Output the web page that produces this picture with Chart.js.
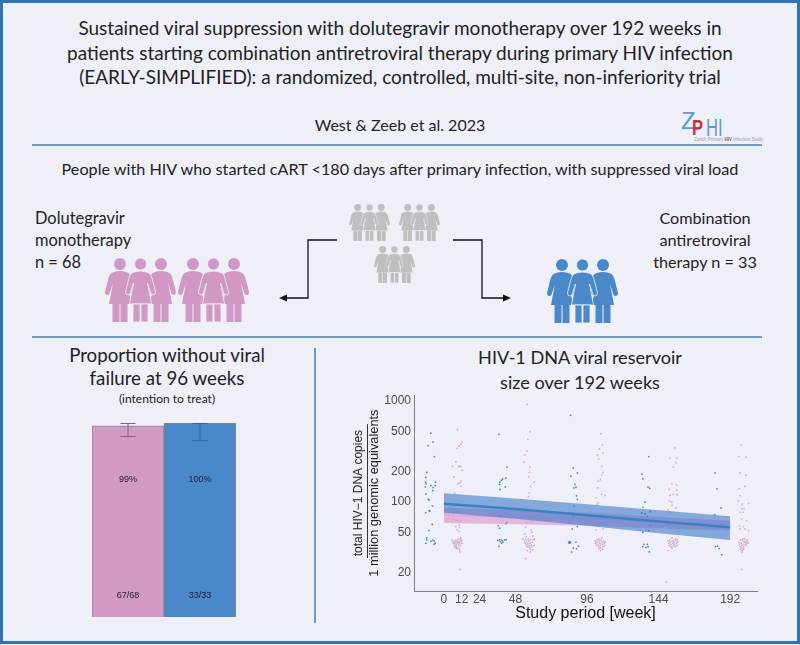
<!DOCTYPE html>
<html>
<head>
<meta charset="utf-8">
<script src="https://cdn.jsdelivr.net/npm/chart.js@4"></script>
<style>
  html, body { margin: 0; padding: 0; background: #EFEFF8; }
  #page { position: relative; width: 800px; height: 645px; overflow: hidden; background: #EFEFF8;
          font-family: Lato, "Open Sans", sans-serif; color: #222; }
  #frame { position: absolute; left: 0; top: 0; width: 800px; height: 644px; box-sizing: border-box; border: 3.5px solid #2E75B6; }
  .t { position: absolute; white-space: nowrap; }
  .c { text-align: center; }
  svg, canvas { position: absolute; }
</style>
</head>
<body>
<div id="page">
  <div id="frame"></div>

  <div class="t c" style="left:0;width:800px;top:16px;font-size:19px;line-height:24.6px">Sustained viral suppression with dolutegravir monotherapy over 192 weeks in<br>patients starting combination antiretroviral therapy during primary HIV infection<br>(EARLY-SIMPLIFIED): a randomized, controlled, multi-site, non-inferiority trial</div>
  <div class="t c" style="left:0;width:800px;top:115px;font-size:16px;line-height:20px">West &amp; Zeeb et al. 2023</div>
  <div class="t c" style="left:0;width:800px;top:158px;font-size:16.2px;line-height:22px">People with HIV who started cART &lt;180 days after primary infection, with suppressed viral load</div>

  <div class="t" style="left:35px;top:207px;font-size:16.4px;line-height:22px">Dolutegravir<br>monotherapy<br>n = 68</div>
  <div class="t c" style="left:625px;width:160px;top:207px;font-size:16.2px;line-height:22px">Combination<br>antiretroviral<br>therapy n = 33</div>

  <div class="t c" style="left:17px;width:300px;top:344px;font-size:18.7px;line-height:23px">Proportion without viral<br>failure at 96 weeks</div>
  <div class="t c" style="left:17px;width:300px;top:392px;font-size:12px;line-height:14px">(intention to treat)</div>
  <div class="t c" style="left:430px;width:300px;top:345px;font-size:18.1px;line-height:24.5px">HIV-1 DNA viral reservoir<br>size over 192 weeks</div>

  <!-- logo -->
  <div class="t" style="left:681px;top:108px;font-size:24px;line-height:26px;color:#5B9BD5;font-family:'Liberation Sans'">Z</div>
  <div class="t" style="left:692px;top:115px;font-size:22px;line-height:26px;color:#C8323C;font-family:'Liberation Sans';font-weight:bold;transform:scaleX(.75);transform-origin:left">P</div>
  <div class="t" style="left:706px;top:115px;font-size:23px;line-height:26px;color:#5B9BD5;font-family:'Liberation Sans';transform:scaleX(.72);transform-origin:left">HI</div>
  <div class="t" style="left:694px;top:137px;font-size:4.5px;line-height:6px;color:#999;font-family:'Liberation Sans'">Zurich Primary <b style="color:#8a5a6a">HIV</b> Infection Study</div>

  <svg width="800" height="645" style="left:0;top:0">
    <defs>
      <symbol id="person" viewBox="0 0 30 64" overflow="visible">
        <circle cx="15" cy="6" r="6"/>
        <path d="M9 14 Q15 12 21 14 C25 15 26 18 27 22 L30 34 Q30 37 27.5 37 Q25.5 37 25 34 L22 25 L26 46 L4 46 L8 25 L5 34 Q4.5 37 2.5 37 Q0 37 0 34 L3 22 C4 18 5 15 9 14 Z"/>
        <rect x="7.5" y="46" width="7" height="18"/>
        <rect x="15.5" y="46" width="7" height="18"/>
      </symbol>
      <symbol id="trio" viewBox="0 0 71 64" overflow="visible">
        <use href="#person" x="0" y="0" width="30" height="64"/>
        <use href="#person" x="41" y="0" width="30" height="64"/>
        <use href="#person" x="20.5" y="0" width="30" height="64" stroke="#EFEFF8" stroke-width="0.8"/>
      </symbol>
    </defs>
    <!-- section rules -->
    <g stroke="#2E75B6" stroke-width="1.5" fill="none" opacity="0.9">
      <path d="M32 145 H762"/>
      <path d="M32 337 H762"/>
      <path d="M315 348 V623"/>
    </g>
    <!-- randomisation -->
    <g fill="#BFBFBF">
      <use href="#trio" x="349" y="204" width="41" height="37"/>
      <use href="#trio" x="399" y="204" width="41" height="37"/>
      <use href="#trio" x="374" y="246" width="41" height="37"/>
    </g>
    <g fill="#D198C5">
      <use href="#trio" x="105" y="258" width="71" height="64"/>
      <use href="#trio" x="178" y="258" width="71" height="64"/>
    </g>
    <use href="#trio" x="547" y="259" width="71" height="64" fill="#4A89C9"/>
    <g fill="none" stroke="#111" stroke-width="1.3">
      <path d="M337 240 H308 V298 H284"/>
      <path d="M453 240 H482 V298 H506"/>
    </g>
    <path d="M279 298 L287 294.5 V301.5 Z" fill="#111"/>
    <path d="M511 298 L503 294.5 V301.5 Z" fill="#111"/>
  </svg>

  <canvas id="barChart" width="260" height="215" style="left:30px;top:410px"></canvas>
  <canvas id="reservoirChart" width="450" height="250" style="left:330px;top:385px"></canvas>
</div>

<script>
// bar panel
const armNames = ['Dolutegravir monotherapy', 'Combination antiretroviral therapy'];
const armPercent = [98.5, 100];
const armCiLow = [93.1, 91];
const armCiHigh = [100, 100];
const armPercentLabels = ['99%', '100%'];
const armCountLabels = ['67/68', '33/33'];
const armFill = ['#D399C5', '#4A89C9'];
const armWhisker = ['#8A5B8C', '#2F69A6'];

// reservoir panel, [week, copies]
const weekTicks = [0, 12, 24, 48, 96, 144, 192];
const copyTicks = [20, 50, 100, 200, 500, 1000];

const bluePoints = [
  // week 0 visit
  [-8.7,481],[-7.2,393],[-10.5,362],[-6.3,282],[-11.4,197],[-12.1,175],[-12.3,157],[-11.9,152],[-12.3,141],[-8.7,146],[-5.6,157],[-5.8,146],[-7.2,139],[-7.4,130],[-12.1,120],[-10.5,106],[-9.8,105],[-9.8,82],[-9.4,81],[-12.1,78],[-7.8,60],[-10,52],[-7.6,91],[-11.4,44],[-12.1,39],[-11.4,42],[-8.7,41],[-7.4,42],[-6.5,41],[-5.8,39],[-6.5,38],
  // week 48
  [36.9,468],[42.3,222],[41.6,172],[39.4,169],[38.5,164],[37.6,157],[37.4,149],[41.2,141],[37.8,133],[40.3,87],[38.3,73],[37.4,72],[42.5,63],[41.6,61],[36.5,58],[37.4,55],[37.4,42.4],[36.2,41.5],[37.8,40.5],[38.9,41.5],[40.7,42],[41.8,42.4],[36.9,36.2],[38.7,39],[39.6,40],
  // week 96
  [85,723],[86.8,217],[89.5,194],[85.2,180],[87.9,149],[87.2,138],[88.6,140],[89,115],[89.5,106],[87.5,91],[86.8,71],[89.5,57],[86.1,54],[83.7,40],[84.1,39],[85,39.5],[84.6,40.5],[88.6,40],[90.2,36.5],[86.8,35],[89,34.5],[85.7,32],
  // week 144
  [137.4,282],[132.9,189],[133.5,170],[136.9,141],[138,137],[134.9,100],[133.5,89],[132.7,77.5],[134.9,76],[136.5,72],[138.3,80],[135.9,65],[138.3,59],[137.4,52],[133.4,50],[134.2,38],[136.5,38],[133.4,36],[135.6,35.5],[136.9,36],[137.8,32],
  // week 192
  [181.9,194],[183.2,135],[185.9,87],[181.7,75],[185.7,59],[181.4,55],[184.1,55],[182.1,36],[183.5,36.5],[184.6,34.5],[186.4,30]
];

const pinkPoints = [
  // week 0 visit
  [9.2,523],[12.1,396],[11.4,376],[10.3,359],[8.9,341],[8.1,249],[5.8,225],[10.1,225],[11.2,225],[12.3,206],[6.9,177],[11.6,161],[10.7,155],[9.6,152],[11.4,143],[7.2,122],[6.3,86],[8.1,81],[9.6,80],[6.7,79],[6.3,67],[8.1,66],[8.9,65],[11.2,65],[10.3,59],[8.1,57],[10.3,56],[8.9,53],[10.3,51],
  [5.3,42],[6,40],[6.5,38.5],[6.8,41],[7.2,39],[7.5,37],[7.9,42],[8,40],[8.3,38],[8.6,36],[9,41],[9.2,39],[9.5,43],[9.8,40],[10,37.5],[10.2,35],[10.5,41],[10.8,39],[11,43],[11.4,44],[11.6,41],[12,42],[12.2,39],[9,34.5],[10.7,33.5],[7,36],[8.2,35],[11.2,37],[10.7,32],[10.7,21.4],
  // week 48
  [55.9,930],[57.7,497],[56.4,418],[55.9,321],[54.4,293],[53.9,249],[57.7,222],[57.3,197],[57,177],[60.6,157],[58.2,143],[57.3,123],[56.8,113],[52.8,82],[55.5,82],[58.2,82],[56.6,70],[55,69],[59.5,64],[55,62],[54.8,56],[58.4,53],[59,50],[54.4,48],[59.7,46],[55,45],
  [53.2,43],[54,41],[54.6,39],[55,42],[55.3,37.5],[55.6,40],[56,36],[56.3,38.5],[56.6,43],[57,41],[57.2,37],[57.5,35.5],[57.8,39],[58,34],[58.2,42],[58.6,37.5],[59,36],[59.3,40],[59.6,33.5],[60,42],[60.4,37],[60.7,43],[58,32],[56,33],[54.8,27.4],
  // week 96
  [105.4,476],[106.3,368],[104.3,334],[106.9,305],[103.1,293],[103.8,268],[105.8,225],[106.9,197],[105.8,187],[105.1,167],[103.6,161],[103.1,138],[102,110],[105.8,119],[108.1,116],[103.6,98],[102.9,95],[103.6,73],[106.9,73],[104.7,62],[106.9,54],[102,53],
  [101.5,41],[102,39],[102.3,37],[102.7,42],[103,40],[103.4,38],[103.8,36],[104,43],[104.3,41],[104.6,39],[104.9,37],[105.2,35],[105.5,42],[105.8,44],[106,40],[106.3,38],[106.6,36],[107,41],[107.4,39],[107.8,37],[108.2,40],[105,33],[104,34.5],[106.5,34],
  // week 144
  [154.8,344],[151.7,272],[156.1,272],[155.7,247],[153.9,222],[152.8,152],[156.1,147],[151.2,133],[156.1,131],[151.7,116],[153.9,119],[156.4,118],[151.2,102],[152.8,100],[153,93],[155.7,87],[150.3,83],[151.7,80],[150.5,60],[152.8,62],[155,58],[149.4,58],[151.7,59],
  [150.3,41],[150.8,39],[151.2,37],[151.5,42],[151.9,40],[152.3,38],[152.6,36],[153,44],[153.3,41],[153.6,39],[153.9,37],[154.2,42],[154.5,40],[154.8,38],[155.1,36],[155.4,43],[155.7,41],[156,39],[156.3,37],[156.6,42],[156.9,40],[153,35],[150.3,33],[149.4,16],
  // week 192
  [199.4,368],[198,282],[202.5,278],[198.7,194],[202.5,184],[201.8,143],[198,135],[198.7,115],[197.5,102],[200.2,95],[204.3,97],[199.8,86],[201.3,86],[198.7,79],[200.9,79],[199.8,68],[203.1,65],[198.2,58],[200.9,57],[204.3,52],[198.7,54],[202,54],
  [197.8,40],[198.3,38],[198.7,36],[199,42],[199.4,39],[199.7,37],[200,35],[200.3,43],[200.6,41],[200.9,38],[201.2,36],[201.5,43],[201.8,40],[202.1,38],[202.4,41],[202.7,39],[203,37],[203.3,42],[203.6,40],[204,39],[200,33],[199,34],[201,34],[200,32],[199.8,21.4]
];

// model fit and confidence bands
const fitWeeks = [0, 48, 96, 144, 192];
const blueFit = [96, 85, 74, 64, 56];
const blueUpper = [122, 108, 95, 83, 72];
const blueLower = [78, 68, 58, 49, 42];
const pinkFit = [74, 71, 68, 64, 59];
const pinkUpper = [88, 83, 78, 71, 65];
const pinkLower = [62, 60, 58, 55, 52];

const LABEL_FONT = '"Liberation Sans", Arial, sans-serif';

// whiskers and the two labels inside each bar
const barExtras = {
  id: 'barExtras',
  afterDatasetsDraw(chart) {
    const { ctx, scales: { x, y } } = chart;
    ctx.save();
    armNames.forEach((name, i) => {
      const cx = x.getPixelForValue(i);
      ctx.strokeStyle = armWhisker[i];
      ctx.lineWidth = 1;
      const lo = Math.round(y.getPixelForValue(armCiLow[i])) + 0.5;
      const hi = Math.round(y.getPixelForValue(armCiHigh[i])) + 0.5;
      ctx.beginPath();
      ctx.moveTo(cx, lo); ctx.lineTo(cx, hi);
      ctx.moveTo(cx - 7.5, lo); ctx.lineTo(cx + 7.5, lo);
      ctx.moveTo(cx - 7.5, hi); ctx.lineTo(cx + 7.5, hi);
      ctx.stroke();
      ctx.fillStyle = '#1d1d2e';
      ctx.font = '9px ' + LABEL_FONT;
      ctx.textAlign = 'center';
      ctx.textBaseline = 'middle';
      ctx.fillText(armPercentLabels[i], cx, y.getPixelForValue(71));
      ctx.fillText(armCountLabels[i], cx, y.getPixelForValue(11.3));
    });
    ctx.restore();
  },
};

new Chart(document.getElementById('barChart'), {
  type: 'bar',
  data: {
    labels: armNames,
    datasets: [{
      data: armPercent,
      backgroundColor: armFill,
      borderColor: '#8c8298',
      borderWidth: 1,
      categoryPercentage: 1,
      barPercentage: 1,
    }],
  },
  options: {
    animation: false,
    responsive: false,
    layout: { padding: { left: 62, right: 54, top: 13, bottom: 8 } },
    scales: {
      x: { display: false },
      y: { display: false, min: 0, max: 100 },
    },
    plugins: { legend: { display: false }, tooltip: { enabled: false } },
  },
  plugins: [barExtras],
});

// stacked axis title with a fraction bar, centred on the y axis
const fractionTitle = {
  id: 'fractionTitle',
  afterDraw(chart) {
    const { ctx, chartArea } = chart;
    const cy = (chartArea.top + chartArea.bottom) / 2;
    ctx.save();
    ctx.translate(37, cy);
    ctx.rotate(-Math.PI / 2);
    ctx.fillStyle = '#222';
    ctx.textAlign = 'center';
    ctx.textBaseline = 'middle';
    ctx.font = '12px ' + LABEL_FONT;
    ctx.fillText('total HIV\u22121 DNA copies', 0, -8);
    ctx.font = '12.8px ' + LABEL_FONT;
    ctx.fillText('1 million genomic equivalents', 0, 7);
    ctx.strokeStyle = '#333';
    ctx.lineWidth = 1;
    ctx.beginPath();
    ctx.moveTo(-65, 0.5);
    ctx.lineTo(69, 0.5);
    ctx.stroke();
    ctx.restore();
  },
};

const toXY = (ys) => fitWeeks.map((w, i) => ({ x: w, y: ys[i] }));
const toPts = (list) => list.map(([x, y]) => ({ x, y }));
const bandEdge = (ys, fill, order) => ({
  data: toXY(ys), showLine: true, pointRadius: 0, borderWidth: 0, borderColor: 'transparent',
  backgroundColor: fill, fill: fill === 'transparent' ? false : '+1', order,
});

new Chart(document.getElementById('reservoirChart'), {
  type: 'scatter',
  data: {
    datasets: [
      { label: 'pink', data: toPts(pinkPoints), pointRadius: 0.9, borderWidth: 0, backgroundColor: 'rgba(208,130,190,0.65)', order: 9 },
      { label: 'blue', data: toPts(bluePoints), pointRadius: 0.9, borderWidth: 0, backgroundColor: 'rgba(50,110,170,0.8)', order: 8 },
      bandEdge(pinkUpper, 'rgba(220,150,205,0.65)', 6),
      bandEdge(pinkLower, 'transparent', 6),
      { data: toXY(pinkFit), showLine: true, pointRadius: 0, borderWidth: 1.5, borderColor: 'rgba(210,130,190,0.25)', order: 5 },
      bandEdge(blueUpper, 'rgba(60,120,200,0.6)', 4),
      bandEdge(blueLower, 'transparent', 4),
      { data: toXY(blueFit), showLine: true, pointRadius: 0, borderWidth: 2.5, borderColor: '#3C82C0', order: 1 },
    ],
  },
  options: {
    animation: false,
    responsive: false,
    layout: { padding: { left: 0, right: 23, top: 8, bottom: 12 } },
    scales: {
      x: {
        type: 'linear',
        min: -20,
        max: 210,
        grid: { display: false, drawTicks: false },
        border: { display: true, color: '#7f7f7f', width: 1 },
        afterBuildTicks: (axis) => { axis.ticks = weekTicks.map((value) => ({ value })); },
        ticks: { autoSkip: false, maxRotation: 0, padding: 1, color: '#4d4d4d', font: { family: LABEL_FONT, size: 12 }, callback: (v) => String(v) },
        title: { display: true, text: 'Study period [week]', color: '#111', padding: { top: 0, bottom: 0 }, font: { family: LABEL_FONT, size: 16 } },
        afterFit: (axis) => { axis.height = 32; },
      },
      y: {
        type: 'logarithmic',
        min: 13.1,
        max: 1145,
        grid: { display: false, drawTicks: false },
        border: { display: true, color: '#7f7f7f', width: 1 },
        afterBuildTicks: (axis) => { axis.ticks = copyTicks.map((value) => ({ value })); },
        ticks: { autoSkip: false, padding: 3, color: '#4d4d4d', font: { family: LABEL_FONT, size: 12 }, callback: (v) => String(v) },
        afterFit: (axis) => { axis.width = 84; },
      },
    },
    plugins: { legend: { display: false }, tooltip: { enabled: false } },
  },
  plugins: [fractionTitle],
});
</script>
</body>
</html>
